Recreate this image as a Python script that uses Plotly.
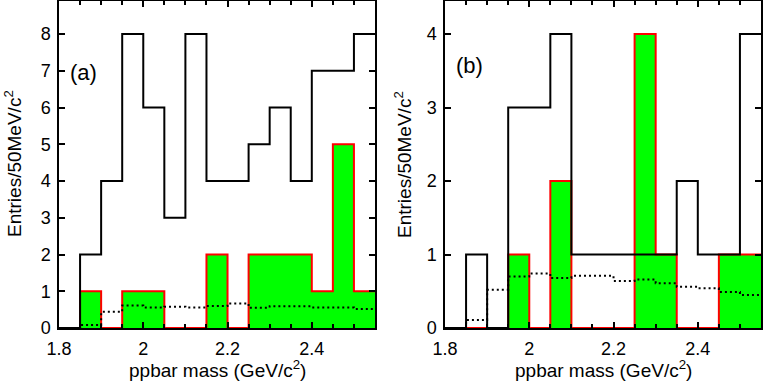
import plotly.graph_objects as go

# bin edges (GeV/c^2), 50 MeV bins
edges = [1.80, 1.85, 1.90, 1.95, 2.00, 2.05, 2.10, 2.15, 2.20, 2.25, 2.30, 2.35, 2.40, 2.45, 2.50, 2.55]

# panel (a)
a_total = [0, 2, 4, 8, 6, 3, 8, 4, 4, 5, 6, 4, 7, 7, 8]
a_signal = [0, 1, 0, 1, 1, 0, 0, 2, 0, 2, 2, 2, 1, 5, 1]
a_bkg = [0, 0.08, 0.44, 0.61, 0.56, 0.58, 0.56, 0.60, 0.67, 0.55, 0.59, 0.59, 0.56, 0.56, 0.52]

# panel (b)
b_total = [0, 1, 0, 3, 3, 4, 1, 1, 1, 1, 1, 2, 1, 1, 4]
b_signal = [0, 0, 0, 1, 0, 2, 0, 0, 0, 4, 1, 0, 0, 1, 1]
b_bkg = [0, 0.11, 0.52, 0.70, 0.74, 0.68, 0.71, 0.71, 0.64, 0.66, 0.61, 0.56, 0.54, 0.49, 0.45]

x_ticks = [1.8, 2.0, 2.2, 2.4]
x_tick_text = ["1.8", "2", "2.2", "2.4"]
a_yticks = [0, 1, 2, 3, 4, 5, 6, 7, 8]
b_yticks = [0, 1, 2, 3, 4]

FONT = "Liberation Sans, Arial, Helvetica, sans-serif"


def step(vals):
    return list(edges), list(vals) + [vals[-1]]


fig = go.Figure()

for vals_sig, vals_tot, vals_bkg, xa, ya in [
    (a_signal, a_total, a_bkg, "x", "y"),
    (b_signal, b_total, b_bkg, "x2", "y2"),
]:
    xs, ys = step(vals_sig)
    fig.add_trace(go.Scatter(x=xs, y=ys, mode="lines", line=dict(shape="hv", color="#ff0000", width=2),
                             fill="tozeroy", fillcolor="#00ff00", xaxis=xa, yaxis=ya, showlegend=False))
    xs, ys = step(vals_tot)
    fig.add_trace(go.Scatter(x=xs, y=ys, mode="lines", line=dict(shape="hv", color="black", width=2),
                             xaxis=xa, yaxis=ya, showlegend=False))
    xs, ys = step(vals_bkg)
    fig.add_trace(go.Scatter(x=xs, y=ys, mode="lines", line=dict(shape="hv", color="black", width=2, dash="2px,3px"),
                             xaxis=xa, yaxis=ya, showlegend=False))

W, H = 763, 381
L, B, T = 0, 53, 1

xcommon = dict(range=[1.8, 2.55], tickmode="array", tickvals=x_ticks, ticktext=x_tick_text,
               ticks="inside", ticklen=6, tickwidth=1.5, tickcolor="black",
               minor=dict(dtick=0.05, tick0=1.8, ticks="inside", ticklen=4, tickwidth=1.5, tickcolor="black"),
               showline=True, linecolor="black", linewidth=1.5, mirror="ticks",
               showgrid=False, zeroline=False, ticklabelstandoff=4, automargin=False,
               tickfont=dict(family=FONT, size=18, color="black"))
ycommon = dict(ticks="inside", ticklen=6, tickwidth=1.5, tickcolor="black",
               showline=True, linecolor="black", linewidth=1.5, mirror="ticks",
               showgrid=False, zeroline=False, ticklabelstandoff=3, automargin=False,
               tickfont=dict(family=FONT, size=18, color="black"))

fig.update_layout(
    template="none",
    width=W, height=H, margin=dict(l=L, r=0, t=T, b=B, autoexpand=False),
    paper_bgcolor="white", plot_bgcolor="white",
    xaxis=dict(domain=[59 / W, 375 / W], anchor="y", **xcommon),
    xaxis2=dict(domain=[445 / W, 761 / W], anchor="y2", **xcommon),
    yaxis=dict(domain=[0, 1], anchor="x", range=[0, 8.9], tickvals=a_yticks, **ycommon),
    yaxis2=dict(domain=[0, 1], anchor="x2", range=[0, 4.45], tickvals=b_yticks, **ycommon),
)

ph = H - T - B
def py(pix):
    return (H - B - pix) / ph

ann = []
for cx, ycx in [((59 + 375) / 2, 13), ((445 + 761) / 2, 403)]:
    ann.append(dict(text="ppbar mass (GeV/c<sup>2</sup>)", x=cx / W, y=py(369), xref="paper", yref="paper",
                    xanchor="center", yanchor="middle", showarrow=False,
                    font=dict(family=FONT, size=19, color="black")))
    ann.append(dict(text="Entries/50MeV/c<sup>2</sup>", x=ycx / W, y=py(164), xref="paper", yref="paper",
                    xanchor="center", yanchor="middle", textangle=-90, showarrow=False,
                    font=dict(family=FONT, size=19, color="black")))
ann.append(dict(text="(a)", x=1.821, y=6.95, xref="x", yref="y", xanchor="left", yanchor="middle",
                showarrow=False, font=dict(family=FONT, size=22, color="black")))
ann.append(dict(text="(b)", x=1.821, y=3.57, xref="x2", yref="y2", xanchor="left", yanchor="middle",
                showarrow=False, font=dict(family=FONT, size=22, color="black")))
fig.update_layout(annotations=ann)

fig.write_html("out.html", config={"displayModeBar": False},
               post_script="document.body.style.margin='0';document.body.style.overflow='hidden';")
